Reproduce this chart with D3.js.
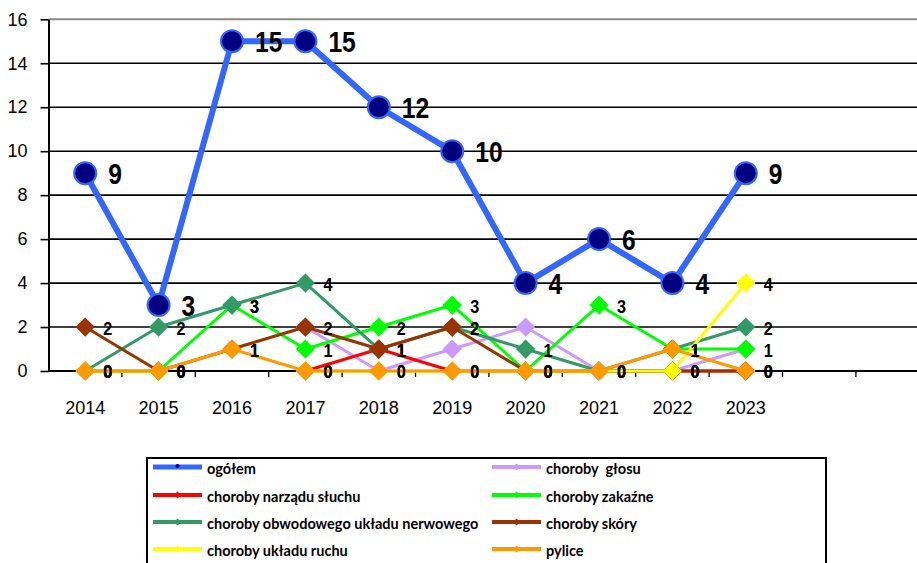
<!DOCTYPE html>
<html><head><meta charset="utf-8">
<script src="https://cdn.jsdelivr.net/npm/d3@7"></script>
<style>
html,body{margin:0;padding:0;background:#fff;}
svg{display:block;}
</style></head>
<body>
<svg id="chart" width="917" height="563"></svg>
<script>
// ---- data ----
const years = ["2014","2015","2016","2017","2018","2019","2020","2021","2022","2023"];
const emptySlots = ["_e1","_e2"];
const yTicks = [0,2,4,6,8,10,12,14,16];

const seriesNames = ["ogółem","choroby  głosu","choroby narządu słuchu","choroby zakaźne",
  "choroby obwodowego układu nerwowego","choroby skóry","choroby układu ruchu","pylice"];
const seriesColors = ["#3366FF","#CC99FF","#FF0000","#00FF00","#339966","#993300","#FFFF00","#FF9900"];
const ogolem     = [9,3,15,15,12,10,4,6,4,9];
const glosu      = [null,null,null,2,0,1,2,0,0,1];
const sluchu     = [0,0,null,0,1,0,0,0,0,0];
const zakazne    = [0,0,3,1,2,3,0,3,1,1];
const obwodowego = [0,2,3,4,1,2,1,0,1,2];
const skory      = [2,0,1,2,1,2,0,0,0,0];
const ruchu      = [0,0,null,0,0,0,0,0,0,4];
const pylice     = [0,0,1,0,0,0,0,0,1,0];
const seriesValues = [ogolem,glosu,sluchu,zakazne,obwodowego,skory,ruchu,pylice];
const seriesLabelled = [true,false,true,true,true,true,true,true];

// ---- layout ----
const svg = d3.select("#chart");
const plotLeft = 48.5, plotTop = 19.3, plotBottom = 371;
const step = 73.4;
const domainAll = years.concat(emptySlots);
const x = d3.scaleBand().domain(domainAll).range([plotLeft, plotLeft + step*domainAll.length]).padding(0);
const y = d3.scaleLinear().domain([0,16]).range([plotBottom, plotTop]);
const cx = d => x(d) + x.bandwidth()/2;

// gridlines
svg.append("g").selectAll("line").data(yTicks).join("line")
  .attr("x1", plotLeft).attr("x2", 917)
  .attr("y1", d => y(d)).attr("y2", d => y(d))
  .attr("stroke", d => d === 16 ? "#8a8a8a" : "#000")
  .attr("stroke-width", d => d === 16 ? 2 : 1.6);

// y axis
const yAxis = svg.append("g").attr("transform", `translate(${plotLeft},0)`)
  .call(d3.axisLeft(y).tickValues(yTicks).tickSize(8).tickPadding(13).tickSizeOuter(0));
yAxis.select(".domain").attr("stroke","#000").attr("stroke-width",2);
yAxis.selectAll(".tick line").attr("stroke","#000").attr("stroke-width",1.6);
yAxis.selectAll(".tick text").attr("font-family","'Liberation Sans', Arial, sans-serif")
  .attr("font-size","18px").attr("fill","#000");

// x axis (labels at category centers)
const xAxis = svg.append("g").attr("transform", `translate(0,${plotBottom})`)
  .call(d3.axisBottom(x).tickSize(0).tickPadding(30).tickFormat(d => years.includes(d) ? d : ""));
xAxis.select(".domain").remove();
xAxis.selectAll(".tick text").attr("font-family","'Liberation Sans', Arial, sans-serif")
  .attr("font-size","18px").attr("fill","#000");
// axis line + boundary tick marks
svg.append("line").attr("x1", plotLeft).attr("x2", 917).attr("y1", plotBottom).attr("y2", plotBottom)
  .attr("stroke","#000").attr("stroke-width",2);
svg.append("g").selectAll("line").data(domainAll.slice(1)).join("line")
  .attr("x1", d => x(d)).attr("x2", d => x(d))
  .attr("y1", plotBottom).attr("y2", plotBottom + 6)
  .attr("stroke","#000").attr("stroke-width",1.3);

// series
const line = d3.line().defined(d => d.v !== null).x(d => cx(d.year)).y(d => y(d.v));
const diamond = d3.symbol().type(d3.symbolSquare).size(185);

seriesValues.forEach((vals, i) => {
  const pts = years.map((yr, j) => ({year: yr, v: vals[j]}));
  const g = svg.append("g");
  const color = seriesColors[i];
  const isTotal = i === 0;
  g.append("path").datum(pts).attr("d", line)
    .attr("fill","none").attr("stroke", color)
    .attr("stroke-width", isTotal ? 6 : 3).attr("stroke-linejoin","round");
  const valid = pts.filter(d => d.v !== null);
  if (isTotal) {
    g.selectAll("circle").data(valid).join("circle")
      .attr("cx", d => cx(d.year)).attr("cy", d => y(d.v)).attr("r", 11)
      .attr("fill", "#000080").attr("stroke", color).attr("stroke-width", 2);
    g.selectAll("text").data(valid).join("text")
      .attr("transform", d => `translate(${cx(d.year) + 23},${y(d.v)}) scale(0.82,1)`)
      .attr("dy","0.36em")
      .attr("font-family","'Liberation Sans', Arial, sans-serif")
      .attr("font-weight","bold").attr("font-size","30px").attr("fill","#000")
      .text(d => d.v);
  } else {
    g.selectAll("path.m").data(valid).join("path").attr("class","m")
      .attr("d", diamond)
      .attr("transform", d => `translate(${cx(d.year)},${y(d.v)}) rotate(45)`)
      .attr("fill", color);
    if (seriesLabelled[i]) {
      g.selectAll("text").data(valid).join("text")
        .attr("transform", d => `translate(${cx(d.year) + 18},${y(d.v) + 1}) scale(0.9,1)`)
        .attr("dy","0.36em")
        .attr("font-family","'Liberation Sans', Arial, sans-serif")
        .attr("font-weight","bold").attr("font-size","18px").attr("fill","#000")
        .text(d => d.v);
    }
  }
});

// legend
const lg = svg.append("g");
lg.append("rect").attr("x",147).attr("y",458).attr("width",679).attr("height",120)
  .attr("fill","#fff").attr("stroke","#000").attr("stroke-width",2);
const colX = [153, 492];
const rowY = [467, 495, 522, 549];
seriesNames.forEach((name, i) => {
  const col = i % 2, row = Math.floor(i / 2);
  const x0 = colX[col], yy = rowY[row];
  const item = lg.append("g");
  item.append("line").attr("x1", x0).attr("x2", x0 + 49).attr("y1", yy).attr("y2", yy)
    .attr("stroke", seriesColors[i]).attr("stroke-width", i === 0 ? 5 : 4);
  if (i === 0) {
    item.append("circle").attr("cx", x0 + 24.5).attr("cy", yy - 1).attr("r", 2).attr("fill","#000080");
  } else {
    item.append("path").attr("d", d3.symbol().type(d3.symbolSquare).size(26))
      .attr("transform", `translate(${x0 + 24.5},${yy}) rotate(45)`).attr("fill", seriesColors[i]);
  }
  item.append("text").attr("x", x0 + 54).attr("y", yy + 2).attr("dy","0.35em")
    .attr("font-family","Lato, 'Liberation Sans', sans-serif").attr("font-weight","bold")
    .attr("font-size","14.5px").attr("fill","#000").style("white-space","pre")
    .attr("xml:space","preserve")
    .text(name);
});
</script>
</body></html>
